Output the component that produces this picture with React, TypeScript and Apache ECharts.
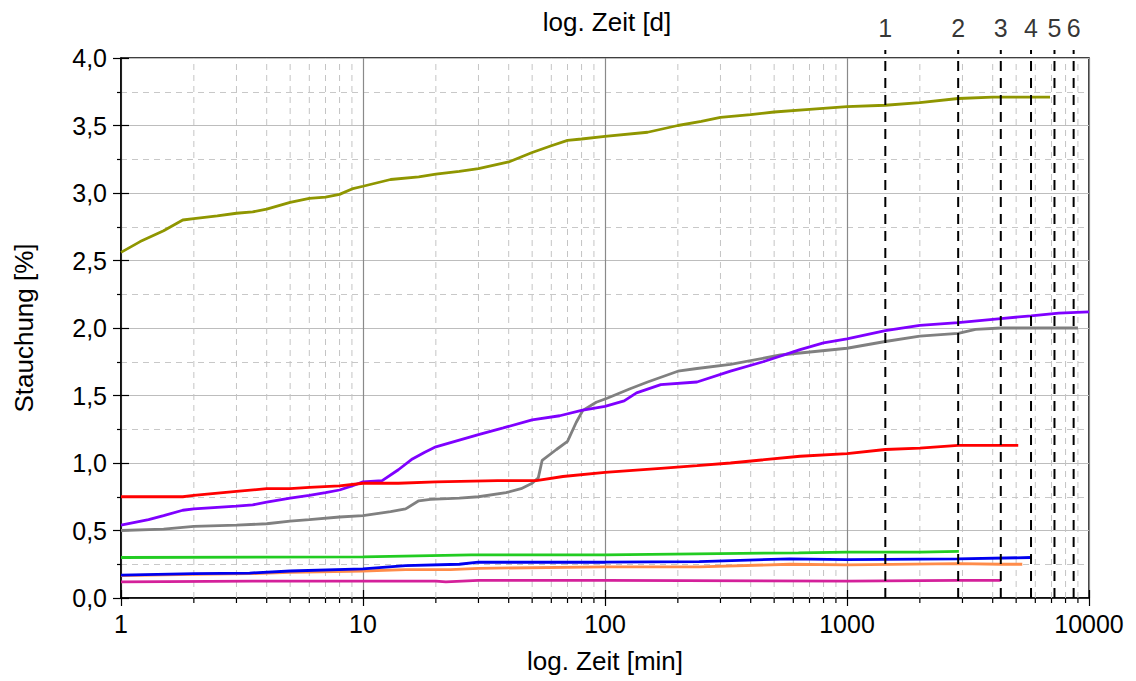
import React, { useEffect, useRef } from "react";
import * as echarts from "echarts";

const olive: [number, number][] = [
  [1, 2.56], [1.2, 2.64], [1.5, 2.72], [1.8, 2.8], [2, 2.81], [2.5, 2.83], [3, 2.85], [3.5, 2.86],
  [4, 2.88], [5, 2.93], [6, 2.96], [7, 2.97], [8, 2.99], [9, 3.03], [10, 3.05], [13, 3.1], [17, 3.12],
  [20, 3.14], [25, 3.16], [30, 3.18], [40, 3.23], [50, 3.3], [60, 3.35], [70, 3.39], [80, 3.4],
  [100, 3.42], [150, 3.45], [200, 3.5], [250, 3.53], [300, 3.56], [400, 3.58], [500, 3.6], [700, 3.62],
  [1000, 3.64], [1440, 3.65], [2000, 3.67], [2880, 3.7], [4000, 3.71], [5500, 3.71], [6900, 3.71],
];
const purple: [number, number][] = [
  [1, 0.54], [1.3, 0.58], [1.5, 0.61], [1.8, 0.65], [2, 0.66], [3, 0.68], [3.5, 0.69], [4, 0.71],
  [5, 0.74], [6, 0.76], [7, 0.78], [8, 0.8], [9, 0.83], [10, 0.86], [12, 0.87], [14, 0.95], [16, 1.03],
  [18, 1.08], [20, 1.12], [25, 1.17], [30, 1.21], [38, 1.26], [50, 1.32], [65, 1.35], [80, 1.39],
  [100, 1.42], [120, 1.46], [135, 1.52], [170, 1.58], [240, 1.6], [330, 1.68], [450, 1.75], [640, 1.84],
  [800, 1.89], [1000, 1.92], [1440, 1.98], [2000, 2.02], [2880, 2.04], [4320, 2.07], [5760, 2.09],
  [7500, 2.11], [10000, 2.12],
];
const grey: [number, number][] = [
  [1, 0.5], [1.5, 0.51], [2, 0.53], [3, 0.54], [4, 0.55], [5, 0.57], [6, 0.58], [8, 0.6], [10, 0.61],
  [13, 0.64], [15, 0.66], [17, 0.72], [19, 0.73], [25, 0.74], [30, 0.75], [39, 0.78], [45, 0.81],
  [50, 0.85], [53, 0.89], [55, 1.02], [63, 1.1], [70, 1.16], [76, 1.3], [81, 1.39], [92, 1.45],
  [102, 1.48], [127, 1.55], [150, 1.6], [200, 1.68], [240, 1.7], [330, 1.73], [530, 1.8], [1000, 1.85],
  [1440, 1.9], [2000, 1.94], [2880, 1.96], [3400, 1.99], [4320, 2.0], [6000, 2.0], [9000, 2.0],
];
const red: [number, number][] = [
  [1, 0.75], [1.8, 0.75], [2, 0.76], [3, 0.79], [4, 0.81], [5, 0.81], [6, 0.82], [8, 0.83], [10, 0.85],
  [14, 0.85], [20, 0.86], [36, 0.87], [52, 0.87], [67, 0.9], [100, 0.93], [170, 0.96], [240, 0.98],
  [330, 1.0], [640, 1.05], [1000, 1.07], [1440, 1.1], [2000, 1.11], [2880, 1.13], [4000, 1.13], [5100, 1.13],
];
const green: [number, number][] = [
  [1, 0.3], [10, 0.305], [28, 0.32], [100, 0.32], [630, 0.335], [1000, 0.34], [2000, 0.34], [2900, 0.345],
];
const blue: [number, number][] = [
  [1, 0.17], [2, 0.18], [3.4, 0.185], [5, 0.2], [10, 0.215], [15, 0.24], [25, 0.25], [30, 0.265],
  [100, 0.265], [245, 0.27], [580, 0.29], [1000, 0.285], [2880, 0.29], [5750, 0.3],
];
const orange: [number, number][] = [
  [1, 0.165], [2, 0.175], [3.4, 0.18], [5, 0.19], [10, 0.2], [15, 0.21], [23, 0.21], [30, 0.22],
  [100, 0.23], [245, 0.23], [580, 0.25], [1000, 0.245], [2880, 0.255], [4320, 0.25], [5300, 0.25],
];
const magenta: [number, number][] = [
  [1, 0.12], [3.5, 0.125], [20, 0.125], [22, 0.12], [30, 0.13], [100, 0.13], [1000, 0.125],
  [2880, 0.13], [4320, 0.13],
];

const dayLabels = ["1", "2", "3", "4", "5", "6"];
const dayMinutes = [1440, 2880, 4320, 5760, 7200, 8640];
const minorX = [2, 3, 4, 5, 6, 7, 8, 9, 20, 30, 40, 50, 60, 70, 80, 90, 200, 300, 400, 500, 600, 700, 800, 900, 2000, 3000, 4000, 5000, 6000, 7000, 8000, 9000];

const curves = [
  { name: "olive", color: "#8f9600", data: olive },
  { name: "grey", color: "#808080", data: grey },
  { name: "purple", color: "#7f00ff", data: purple },
  { name: "red", color: "#ff0000", data: red },
  { name: "green", color: "#22cc22", data: green },
  { name: "orange", color: "#ff8c4a", data: orange },
  { name: "blue", color: "#0000ee", data: blue },
  { name: "magenta", color: "#d4209a", data: magenta },
];

const FONT = "'Liberation Sans', Arial, sans-serif";

export default function App() {
  const ref = useRef<HTMLDivElement>(null);
  useEffect(() => {
    if (!ref.current) return;
    const chart = echarts.init(ref.current, null, { renderer: "svg" });
    const series: any[] = [];
    series.push({
      type: "custom",
      name: "minorX",
      clip: false,
      silent: true,
      z: 1,
      data: minorX.map((v) => [v, 0]),
      encode: { x: 0, y: 1 },
      renderItem: (params: any, api: any) => {
        const v = api.value(0);
        const b = api.coord([v, 0]);
        const t = api.coord([v, 4]);
        return {
          type: "group",
          children: [
            { type: "line", shape: { x1: b[0], y1: b[1], x2: t[0], y2: t[1] }, style: { stroke: "#c4c4c4", lineWidth: 1, lineDash: [6, 5] } },
            { type: "line", shape: { x1: b[0], y1: b[1], x2: b[0], y2: b[1] + 5 }, style: { stroke: "#000", lineWidth: 1.2 } },
          ],
        };
      },
    });
    curves.forEach((c) => {
      series.push({
        type: "line",
        name: c.name,
        data: c.data,
        showSymbol: false,
        symbol: "none",
        z: 3,
        lineStyle: { color: c.color, width: 2.8 },
        itemStyle: { color: c.color },
      });
    });
    dayMinutes.forEach((d, i) => {
      series.push({
        type: "line",
        name: "day" + dayLabels[i],
        data: [[d, 0], [d, 4.06]],
        clip: false,
        symbol: "none",
        silent: true,
        z: 4,
        lineStyle: { color: "#000", width: 2, type: [10, 7] },
      });
    });
    series.push({
      type: "scatter",
      name: "dayLabels",
      clip: false,
      silent: true,
      symbolSize: 0,
      data: dayMinutes.map((d, i) => ({ value: [d, 4.06], name: dayLabels[i] })),
      label: {
        show: true,
        position: "top",
        distance: 9,
        formatter: (p: any) => p.name,
        color: "#000",
        fontSize: 25,
        fontFamily: FONT,
      },
    });

    chart.setOption({
      animation: false,
      backgroundColor: "#fff",
      grid: { left: 121, right: 47, top: 58, bottom: 83, show: true, borderColor: "#000", borderWidth: 1.5, backgroundColor: "transparent" },
      graphic: [
        {
          type: "text",
          x: 607,
          y: 22,
          style: { text: "log. Zeit [d]", fontSize: 26, fontFamily: FONT, fill: "#000", textAlign: "center", textVerticalAlign: "middle" },
        },
      ],
      xAxis: [
        {
          type: "log",
          logBase: 10,
          min: 1,
          max: 10000,
          name: "log. Zeit [min]",
          nameLocation: "middle",
          nameGap: 50,
          nameTextStyle: { fontSize: 26, fontFamily: FONT, color: "#000" },
          axisLine: { show: true, lineStyle: { color: "#000", width: 1.5 } },
          axisTick: { show: true, length: 8, lineStyle: { color: "#000", width: 1.2 } },
          axisLabel: {
            fontSize: 25,
            fontFamily: FONT,
            color: "#000",
            margin: 13,
            formatter: (v: number) => String(Math.round(v)),
          },
          splitLine: { show: true, lineStyle: { color: "#8a8a8a", width: 1.2 } },
          minorTick: { show: false },
        },
        {
          type: "log",
          logBase: 10,
          min: 1,
          max: 10000,
          position: "bottom",
          axisLine: { show: false },
          axisTick: { show: true, inside: true, length: 8, lineStyle: { color: "#000", width: 1.2 } },
          axisLabel: { show: false },
          splitLine: { show: false },
        },
      ],
      yAxis: [
        {
          type: "value",
          min: 0,
          max: 4,
          interval: 0.5,
          name: "Stauchung [%]",
          nameLocation: "middle",
          nameGap: 84,
          nameTextStyle: { fontSize: 26, fontFamily: FONT, color: "#000" },
          axisLine: { show: true, lineStyle: { color: "#000", width: 1.5 } },
          axisTick: { show: true, length: 8, lineStyle: { color: "#000", width: 1.2 } },
          minorTick: { show: true, splitNumber: 2, length: 4, lineStyle: { color: "#000", width: 1.2 } },
          axisLabel: {
            fontSize: 25,
            fontFamily: FONT,
            color: "#000",
            margin: 14,
            formatter: (v: number) => v.toFixed(1).replace(".", ","),
          },
          splitLine: { show: true, lineStyle: { color: "#bdbdbd", width: 1.2 } },
          minorSplitLine: { show: true, lineStyle: { color: "#c8c8c8", width: 1, type: [6, 5] } },
        },
        {
          type: "value",
          min: 0,
          max: 4,
          interval: 0.5,
          position: "left",
          axisLine: { show: false },
          axisTick: { show: true, inside: true, length: 8, lineStyle: { color: "#000", width: 1.2 } },
          axisLabel: { show: false },
          splitLine: { show: false },
        },
      ],
      series,
    });
    return () => chart.dispose();
  }, []);
  return <div ref={ref} style={{ position: "absolute", left: 0, top: 0, width: 1136, height: 681 }} />;
}
